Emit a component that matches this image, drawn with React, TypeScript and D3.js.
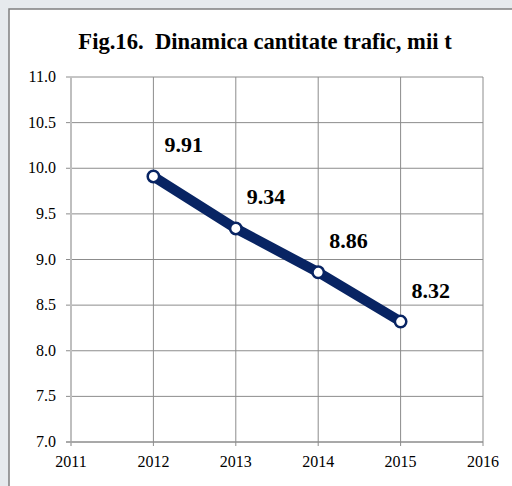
import React from "react";
import * as d3 from "d3";

const years = [2012, 2013, 2014, 2015];
const values = [9.91, 9.34, 8.86, 8.32];
const labels = ["9.91", "9.34", "8.86", "8.32"];
const xTicks = [2011, 2012, 2013, 2014, 2015, 2016];
const yTicks = [7.0, 7.5, 8.0, 8.5, 9.0, 9.5, 10.0, 10.5, 11.0];
const title = "Fig.16.  Dinamica cantitate trafic, mii t";

export default function App() {
  const W = 512, H = 486;
  const x = d3.scaleLinear().domain([2011, 2016]).range([71, 483]);
  const y = d3.scaleLinear().domain([7, 11]).range([442, 77]);
  const line = d3.line<number>().x((_, i) => x(years[i])).y((d) => y(d));
  const font = "'Liberation Serif', 'Times New Roman', serif";
  const navy = "#082463";
  return (
    <svg width={W} height={H} style={{ position: "absolute", left: 0, top: 0 }}>
      <rect x={0} y={0} width={W} height={H} fill="#e6eaed" />
      <rect x={9} y={9} width={W + 20} height={H + 20} fill="#ffffff" stroke="#7f7f7f" strokeWidth={1.5} />
      <text x={265} y={49} textAnchor="middle" fontFamily={font} fontWeight="bold" fontSize={22.6} fill="#000">
        {title.replace("  ", "\u00a0 ")}
      </text>
      {yTicks.map((t) => (
        <g key={"y" + t}>
          <line x1={66} x2={483} y1={y(t)} y2={y(t)} stroke="#8c8c8c" strokeWidth={1} />
          <text x={56} y={y(t) + 5} textAnchor="end" fontFamily={font} fontSize={16} fill="#000">
            {t.toFixed(1)}
          </text>
        </g>
      ))}
      {xTicks.map((t) => (
        <g key={"x" + t}>
          {t !== 2011 && (
            <line x1={x(t)} x2={x(t)} y1={y(11)} y2={y(7) + 4} stroke="#8c8c8c" strokeWidth={1} />
          )}
          <text x={x(t)} y={467} textAnchor="middle" fontFamily={font} fontSize={16} fill="#000">
            {t}
          </text>
        </g>
      ))}
      <line x1={x(2011)} x2={x(2011)} y1={y(11)} y2={y(7) + 4} stroke="#bfbfbf" strokeWidth={2} />
      <line x1={66} x2={483} y1={y(7)} y2={y(7)} stroke="#8c8c8c" strokeWidth={1.2} />
      <path d={line(values) || ""} fill="none" stroke={navy} strokeWidth={10} strokeLinecap="round" strokeLinejoin="round" />
      {values.map((v, i) => (
        <circle key={"c" + i} cx={x(years[i])} cy={y(v)} r={5.7} fill="#ffffff" stroke={navy} strokeWidth={2.5} />
      ))}
      {values.map((v, i) => (
        <text key={"l" + i} x={x(years[i]) + 11} y={y(v) - 24} fontFamily={font} fontWeight="bold" fontSize={22} fill="#000">
          {labels[i]}
        </text>
      ))}
    </svg>
  );
}
